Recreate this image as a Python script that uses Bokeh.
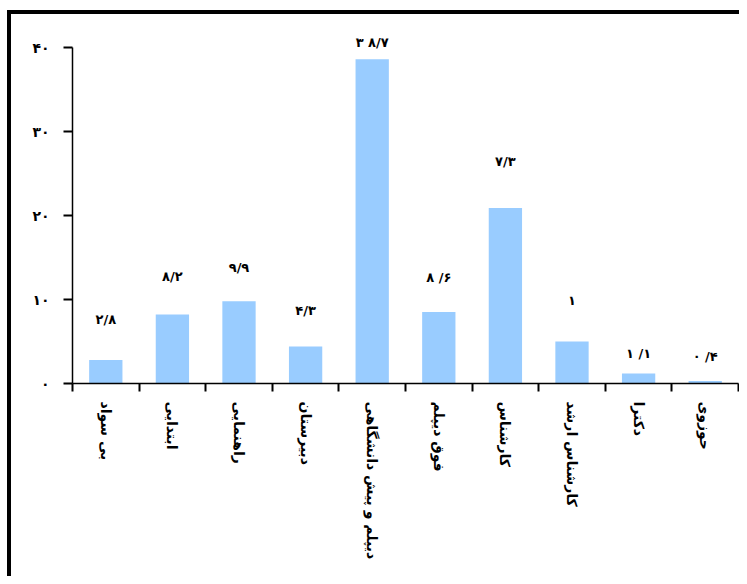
from bokeh.plotting import figure
from bokeh.models import ColumnDataSource, FixedTicker, Range1d, Div, Spacer
from bokeh.layouts import column, row
from bokeh.embed import file_html
from bokeh.resources import INLINE
from bokeh.core.properties import value

categories = ["بی سواد", "ابتدایی", "راهنمایی", "دبیرستان", "دیپلم و پیش دانشگاهی",
              "فوق دیپلم", "کارشناس", "کارشناس ارشد", "دکترا", "حوزوی"]
values = [2.8, 8.2, 9.8, 4.4, 38.6, 8.5, 20.9, 5.0, 1.2, 0.3]
value_labels = ["۲/۸", "۸/۲", "۹/۹", "۴/۳", "۳ ۸/۷", "۸ /۶", "۷/۳", "۱", "۱ /۱", "۰ /۴"]
y_ticks = [0, 10, 20, 30, 40]
y_tick_labels = ["۰", "۱۰", "۲۰", "۳۰", "۴۰"]

label_gap = [40, 38, 34, 36, 17, 35, 46, 41, 20, 24]

FONT = "DejaVu Sans"

centers = [i + 0.5 for i in range(len(categories))]
src = ColumnDataSource(dict(x=centers, top=values, lab=value_labels,
                            yo=[-g for g in label_gap]))

TOTAL_W, TOTAL_H = 739, 576
PAD_L, PAD_T, LINE = 7, 10, 4
PW, PH = TOTAL_W - PAD_L - LINE, TOTAL_H - PAD_T - LINE

p = figure(width=PW, height=PH, output_backend="svg", toolbar_location=None,
           x_range=Range1d(0, len(categories)), y_range=Range1d(0, 42.5),
           min_border_left=61, min_border_right=1, min_border_top=12,
           min_border_bottom=193)
p.outline_line_color = None
p.xgrid.grid_line_color = None
p.ygrid.grid_line_color = None

p.vbar(x="x", top="top", width=0.5, source=src, fill_color="#99CCFF", line_color=None)
p.text(x="x", y="top", text="lab", y_offset="yo", source=src,
       text_align="center", text_baseline="middle",
       text_font=value(FONT), text_font_style="bold", text_font_size="13px",
       text_color="black")

# x axis
xa = p.xaxis[0]
xa.ticker = FixedTicker(ticks=centers, minor_ticks=list(range(len(categories) + 1)))
xa.major_label_overrides = {c: n for c, n in zip(centers, categories)}
xa.major_tick_line_color = None
xa.minor_tick_line_color = "black"
xa.minor_tick_line_width = 2
xa.minor_tick_out = 8
xa.minor_tick_in = 0
xa.axis_line_color = "black"
xa.axis_line_width = 1.5
xa.major_label_orientation = "vertical"
xa.major_label_standoff = 10
xa.major_label_text_font = FONT
xa.major_label_text_font_style = "bold"
xa.major_label_text_font_size = "14px"
xa.major_label_text_color = "black"

# y axis
ya = p.yaxis[0]
ya.ticker = FixedTicker(ticks=y_ticks)
ya.bounds = (0, 40)
ya.major_label_overrides = {t: l for t, l in zip(y_ticks, y_tick_labels)}
ya.minor_tick_line_color = None
ya.major_tick_out = 9
ya.major_tick_in = 0
ya.major_tick_line_width = 2
ya.major_tick_line_color = "black"
ya.axis_line_color = "black"
ya.axis_line_width = 1.5
ya.major_label_standoff = 14
ya.major_label_text_font = FONT
ya.major_label_text_font_style = "bold"
ya.major_label_text_font_size = "14px"
ya.major_label_text_color = "black"

black = {"background-color": "black"}
top_line = Div(text="", width=TOTAL_W - PAD_L, height=LINE, styles=black, margin=0)
left_line = Div(text="", width=LINE, height=PH, styles=black, margin=0)

layout = column(
    Spacer(width=TOTAL_W, height=PAD_T, margin=0),
    row(Spacer(width=PAD_L, height=LINE, margin=0), top_line, spacing=0),
    row(Spacer(width=PAD_L, height=PH, margin=0), left_line, p, spacing=0),
    spacing=0,
)

open("out.html", "w").write(file_html(layout, INLINE))
